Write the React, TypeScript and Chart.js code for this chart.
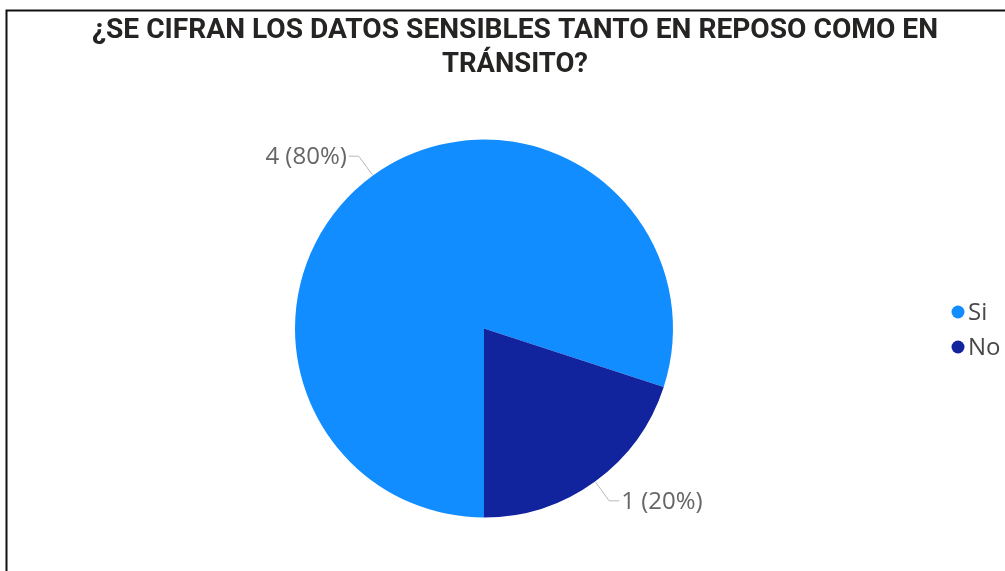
import React, { useEffect, useRef } from "react";
import { Chart, registerables } from "chart.js";

Chart.register(...registerables);

const categories = ["Si", "No"];
const values = [4, 1];
const colors = ["#118DFF", "#12239E"];
const titleLines = ["¿SE CIFRAN LOS DATOS SENSIBLES TANTO EN REPOSO COMO EN", "TRÁNSITO?"];

const W = 1005;
const H = 571;

const framePlugin = {
  id: "frame",
  beforeDraw(chart: any) {
    const ctx = chart.ctx;
    ctx.save();
    ctx.fillStyle = "#ffffff";
    ctx.fillRect(0, 0, W, H);
    ctx.strokeStyle = "#111111";
    ctx.lineWidth = 2;
    ctx.beginPath();
    ctx.moveTo(6.5, H);
    ctx.lineTo(6.5, 10.5);
    ctx.lineTo(W, 10.5);
    ctx.stroke();
    // title
    ctx.fillStyle = "#252423";
    ctx.font = "bold 27px Roboto";
    ctx.textBaseline = "alphabetic";
    ctx.textAlign = "center";
    const cx = 515;
    const targets = [846, 146];
    const baselines = [38, 72];
    titleLines.forEach((line, i) => {
      const w = ctx.measureText(line).width;
      const sx = targets[i] / w;
      ctx.save();
      ctx.translate(cx, baselines[i]);
      ctx.scale(sx, 1);
      ctx.fillText(line, 0, 0);
      ctx.restore();
    });
    ctx.restore();
  },
};

const labelPlugin = {
  id: "sliceLabels",
  afterDraw(chart: any) {
    const ctx = chart.ctx;
    const meta = chart.getDatasetMeta(0);
    const data = chart.data.datasets[0].data as number[];
    const total = data.reduce((a, b) => a + b, 0);
    ctx.save();
    meta.data.forEach((arc: any, i: number) => {
      const { x, y, startAngle, endAngle, outerRadius } = arc.getProps(
        ["x", "y", "startAngle", "endAngle", "outerRadius"],
        true
      );
      const mid = (startAngle + endAngle) / 2;
      const cos = Math.cos(mid);
      const sin = Math.sin(mid);
      const p1x = x + cos * (outerRadius + 1);
      const p1y = y + sin * (outerRadius + 1);
      const p2x = x + cos * (outerRadius + 24);
      const p2y = y + sin * (outerRadius + 24);
      const right = cos >= 0;
      const p3x = p2x + (right ? 10 : -10);
      ctx.strokeStyle = "#b8b8b8";
      ctx.lineWidth = 1;
      ctx.beginPath();
      ctx.moveTo(p1x, p1y);
      ctx.lineTo(p2x, p2y);
      ctx.lineTo(p3x, p2y);
      ctx.stroke();
      const pct = Math.round((data[i] / total) * 100);
      const text = `${data[i]} (${pct}%)`;
      ctx.fillStyle = "#666666";
      ctx.font = "24px 'Open Sans'";
      ctx.textBaseline = "middle";
      ctx.textAlign = right ? "left" : "right";
      ctx.fillText(text, p3x + (right ? 2 : -2), p2y + 1);
    });
    // legend
    const lx = 958;
    const ly0 = 312;
    const gap = 35;
    chart.data.labels.forEach((lab: string, i: number) => {
      const yy = ly0 + i * gap;
      ctx.fillStyle = colors[i];
      ctx.beginPath();
      ctx.arc(lx, yy, 6.5, 0, Math.PI * 2);
      ctx.fill();
      ctx.fillStyle = "#484848";
      ctx.font = "24px 'Open Sans'";
      ctx.textAlign = "left";
      ctx.textBaseline = "middle";
      ctx.fillText(lab, lx + 10, yy + 1);
    });
    ctx.restore();
  },
};

export default function App() {
  const ref = useRef<HTMLCanvasElement>(null);
  useEffect(() => {
    if (!ref.current) return;
    const chart = new Chart(ref.current, {
      type: "pie",
      data: {
        labels: categories,
        datasets: [
          {
            data: values,
            backgroundColor: colors,
            borderWidth: 0,
          },
        ],
      },
      options: {
        responsive: false,
        animation: false,
        rotation: 180,
        layout: { padding: { left: 295, right: 332, top: 139, bottom: 53 } },
        plugins: {
          legend: { display: false },
          title: { display: false },
          tooltip: { enabled: false },
        },
      },
      plugins: [framePlugin, labelPlugin],
    });
    return () => chart.destroy();
  }, []);
  return (
    <div style={{ position: "fixed", left: 0, top: 0, width: W, height: H, background: "#fff" }}>
      <canvas ref={ref} width={W} height={H} style={{ width: W, height: H, display: "block" }} />
    </div>
  );
}
